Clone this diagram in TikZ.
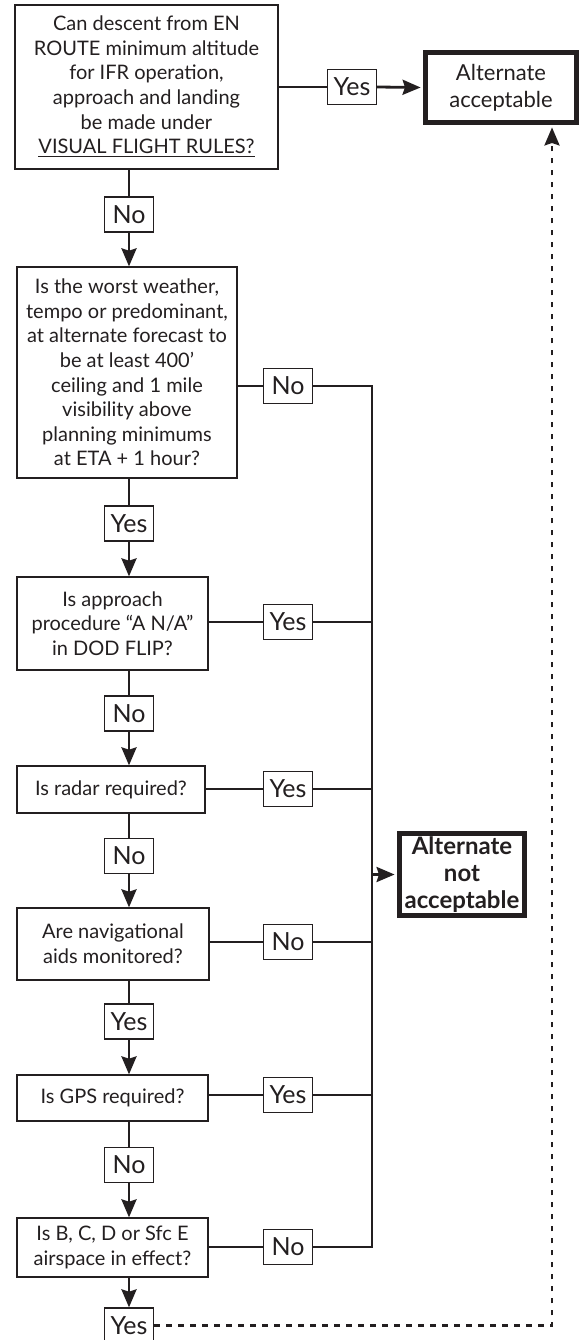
\documentclass[tikz,border=0pt]{standalone}
\usepackage{fontspec}
\setmainfont{Lato}
\usetikzlibrary{arrows.meta}
\definecolor{ink}{RGB}{35,31,32}

\begin{document}
\begin{tikzpicture}[x=0.5pt,y=-0.5pt]
  \tikzset{qbox/.style={draw=ink,line width=0.65pt,inner sep=0pt,align=center,text=ink,font=\fontsize{10}{12.3}\selectfont},
    tag/.style={draw=ink,line width=0.65pt,fill=white,minimum width=24.5pt,minimum height=17.5pt,inner sep=0pt,text=ink,font=\fontsize{12.5}{14}\selectfont},
    endbox/.style={draw=ink,line width=2.5pt,inner sep=0pt,align=center,text=ink},
    flow/.style={draw=ink,line width=1.4pt},
    arr/.style={flow,-{Stealth[length=9pt,width=7.5pt,inset=1.2pt]}},
    dotline/.style={draw=ink,line width=1.4pt,dash pattern=on 2.8pt off 3.2pt,-{Stealth[length=9pt,width=7.5pt,inset=1.2pt]}}}
  \useasboundingbox (0,0) rectangle (584,1340);

  \node[qbox,minimum width=131.5pt,minimum height=82pt] (q1) at (146.5,87) {Can descent from EN\\ROUTE minimum altitude\\for IFR operation,\\approach and landing\\be made under\\\underline{VISUAL FLIGHT RULES?}};
  \node[qbox,minimum width=110pt,minimum height=105.5pt] (q2) at (127,372.5) {Is the worst weather,\\tempo or predominant,\\at alternate forecast to\\be at least 400’\\ceiling and 1 mile\\visibility above\\planning minimums\\at ETA + 1 hour?};
  \node[qbox,minimum width=95.5pt,minimum height=46.5pt] (q3) at (112.5,623.5) {Is approach\\procedure “A N/A”\\in DOD FLIP?};
  \node[qbox,minimum width=94pt,minimum height=23.5pt] (q4) at (111,789.5) {Is radar required?};
  \node[qbox,minimum width=96pt,minimum height=36pt] (q5) at (113,944) {Are navigational\\aids monitored?};
  \node[qbox,minimum width=95.5pt,minimum height=23pt] (q6) at (112.5,1098) {Is GPS required?};
  \node[qbox,minimum width=95.5pt,minimum height=29.5pt] (q7) at (112.5,1247.5) {Is B, C, D or Sfc E\\airspace in effect?};

  \node[endbox,minimum width=75.5pt,minimum height=35pt,font=\fontsize{11}{13.5}\selectfont] (acc) at (501,87.5) {Alternate\\acceptable};
  \node[endbox,minimum width=62.5pt,minimum height=41pt,font=\bfseries\fontsize{12}{13.7}\selectfont] (nacc) at (462,874.5) {Alternate\\not\\acceptable};

  \node[tag] (yes1) at (352,87) {Yes};
  \node[tag] (no1) at (129,214.5) {No};
  \node[tag] (no2) at (288,386) {No};
  \node[tag] (yes2) at (129,523.5) {Yes};
  \node[tag] (yes3) at (288,622) {Yes};
  \node[tag] (no3) at (129,713.5) {No};
  \node[tag] (yes4) at (288,789) {Yes};
  \node[tag] (no4) at (129,856) {No};
  \node[tag] (no5) at (288,942) {No};
  \node[tag] (yes5) at (129,1021.5) {Yes};
  \node[tag] (yes6) at (288,1095) {Yes};
  \node[tag] (no6) at (129,1165) {No};
  \node[tag] (no7) at (288,1247) {No};
  \node[tag] (yes7) at (129,1325.5) {Yes};

  \coordinate (bustop) at (372,386);
  \coordinate (busbot) at (372,1247);
  \coordinate (dc) at (552,1325.5);

  \draw[flow] (q1.east) -- (yes1.west);
  \draw[arr,shorten >=1.2pt] (yes1.east) -- (acc.west);
  \draw[flow] (q1.south -| no1) -- (no1.north);
  \draw[arr] (no1.south) -- (q2.north -| no1);
  \draw[flow] (q2.east |- no2) -- (no2.west);
  \draw[flow] (q2.south -| yes2) -- (yes2.north);
  \draw[arr] (yes2.south) -- (q3.north -| yes2);
  \draw[flow] (q3.east |- yes3) -- (yes3.west);
  \draw[flow] (q3.south -| no3) -- (no3.north);
  \draw[arr] (no3.south) -- (q4.north -| no3);
  \draw[flow] (q4.east |- yes4) -- (yes4.west);
  \draw[flow] (q4.south -| no4) -- (no4.north);
  \draw[arr] (no4.south) -- (q5.north -| no4);
  \draw[flow] (q5.east |- no5) -- (no5.west);
  \draw[flow] (q5.south -| yes5) -- (yes5.north);
  \draw[arr] (yes5.south) -- (q6.north -| yes5);
  \draw[flow] (q6.east |- yes6) -- (yes6.west);
  \draw[flow] (q6.south -| no6) -- (no6.north);
  \draw[arr] (no6.south) -- (q7.north -| no6);
  \draw[flow] (q7.east |- no7) -- (no7.west);
  \draw[arr] (q7.south -| yes7) -- (yes7.north);

  \draw[flow] (no2.east) -- (bustop) -- (busbot) -- (no7.east);
  \draw[flow] (yes3.east) -- (yes3 -| bustop);
  \draw[flow] (yes4.east) -- (yes4 -| bustop);
  \draw[flow] (no5.east) -- (no5 -| bustop);
  \draw[flow] (yes6.east) -- (yes6 -| bustop);
  \draw[arr,shorten >=1.2pt] (nacc.west -| bustop) -- (nacc.west);

  \draw[dotline,shorten >=1.2pt] (yes7.east) -- (dc) -- (dc |- acc.south);
\end{tikzpicture}
\end{document}
